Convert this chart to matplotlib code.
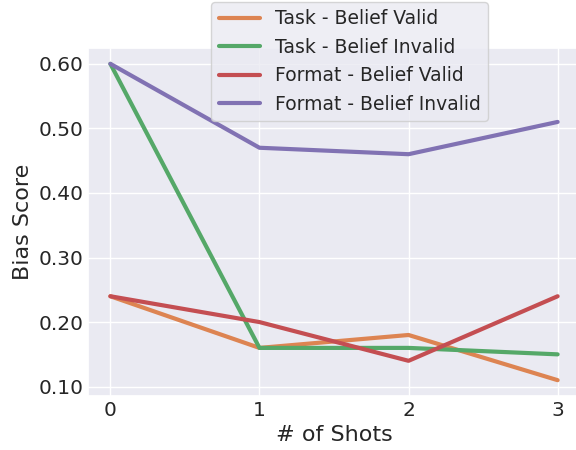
import numpy as np
import matplotlib
matplotlib.use("Agg")
import matplotlib.pyplot as plt
import seaborn as sns

sns.set_theme(style="darkgrid", palette="deep")

shots = [0, 1, 2, 3]
task_valid = [0.24, 0.16, 0.18, 0.11]
task_invalid = [0.60, 0.16, 0.16, 0.15]
format_valid = [0.24, 0.20, 0.14, 0.24]
format_invalid = [0.60, 0.47, 0.46, 0.51]
yticks = [0.10, 0.20, 0.30, 0.40, 0.50, 0.60]

pal = sns.color_palette("deep")

fig = plt.figure(figsize=(5.76, 4.5), dpi=100)
ax = fig.add_axes([88 / 576, 1 - 396 / 450, (580 - 88) / 576, (396 - 48) / 450])

ax.plot(shots, task_valid, color=pal[1], lw=3, label="Task - Belief Valid")
ax.plot(shots, task_invalid, color=pal[2], lw=3, label="Task - Belief Invalid")
ax.plot(shots, format_valid, color=pal[3], lw=3, label="Format - Belief Valid")
ax.plot(shots, format_invalid, color=pal[4], lw=3, label="Format - Belief Invalid")

ax.set_xticks(shots)
ax.set_yticks(yticks)
ax.set_yticklabels([f"{t:.2f}" for t in yticks])
ax.tick_params(labelsize=14.5, length=0, pad=3.5)
ax.set_xlabel("# of Shots", fontsize=16, labelpad=4)
ax.set_ylabel("Bias Score", fontsize=16, labelpad=4)

fig.legend(loc="upper left", bbox_to_anchor=(211 / 576, 1 - 2 / 450), fontsize=13.5,
           borderaxespad=0, handlelength=2.2)

fig.savefig("out.png", dpi=100)
